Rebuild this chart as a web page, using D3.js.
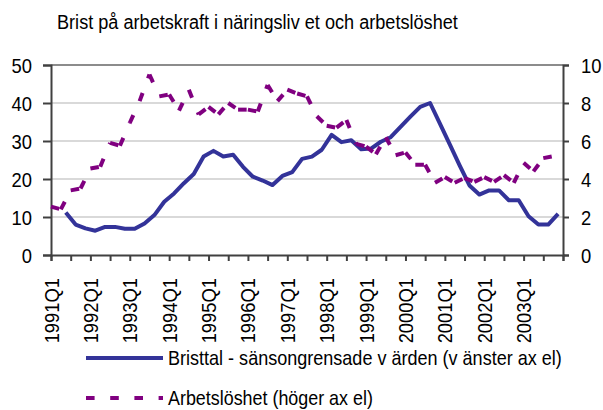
<!DOCTYPE html>
<html><head><meta charset="utf-8">
<script src="https://cdn.jsdelivr.net/npm/d3@7"></script>
<style>
html,body{margin:0;padding:0;background:#fff;}
text{font-family:"Liberation Sans",Arial,sans-serif;fill:#000;}
</style></head>
<body>
<svg id="chart" width="603" height="410"></svg>
<script>
const title = "Brist på arbetskraft i näringsliv et och arbetslöshet";
const quarters = ["1991Q1","1991Q2","1991Q3","1991Q4","1992Q1","1992Q2","1992Q3","1992Q4",
"1993Q1","1993Q2","1993Q3","1993Q4","1994Q1","1994Q2","1994Q3","1994Q4",
"1995Q1","1995Q2","1995Q3","1995Q4","1996Q1","1996Q2","1996Q3","1996Q4",
"1997Q1","1997Q2","1997Q3","1997Q4","1998Q1","1998Q2","1998Q3","1998Q4",
"1999Q1","1999Q2","1999Q3","1999Q4","2000Q1","2000Q2","2000Q3","2000Q4",
"2001Q1","2001Q2","2001Q3","2001Q4","2002Q1","2002Q2","2002Q3","2002Q4",
"2003Q1","2003Q2","2003Q3","2003Q4"];
const xLabels = ["1991Q1","1992Q1","1993Q1","1994Q1","1995Q1","1996Q1","1997Q1","1998Q1","1999Q1","2000Q1","2001Q1","2002Q1","2003Q1"];
// Bristtal (left axis), 1991Q1 missing
const bristtal = [null,11.2,8.0,7.0,6.4,7.4,7.4,6.9,6.9,8.3,10.5,14.0,16.2,18.9,21.3,25.9,
27.4,25.9,26.4,23.2,20.6,19.6,18.4,20.8,21.8,25.3,25.9,27.7,31.6,29.7,30.2,27.8,
28.0,29.8,31.0,33.7,36.4,39.0,40.0,34.6,29.1,23.6,18.3,15.9,17.0,17.0,14.4,14.4,
10.2,8.0,8.0,10.8];
// Arbetslöshet (right axis)
const arbetsloshet = [2.55,2.4,3.4,3.5,4.55,4.65,5.9,5.75,6.95,8.1,9.5,8.35,8.45,7.6,8.7,7.4,
7.8,7.4,8.0,7.65,7.65,7.55,8.95,8.1,8.7,8.5,8.35,7.3,6.8,6.7,7.1,5.85,
5.7,5.3,6.2,5.25,5.4,4.75,4.75,3.8,4.1,3.8,4.05,3.85,4.1,3.85,4.2,3.8,
4.85,4.4,5.1,5.2];
const leftTicks = [0,10,20,30,40,50];
const rightTicks = [0,2,4,6,8,10];
const legendLabels = ["Bristtal - sänsongrensade v ärden (v änster ax el)","Arbetslöshet (höger ax el)"];

const W=603,H=410;
const m={left:51,right:40,top:65,bottom:155};
const svg=d3.select("#chart");
const squeeze=0.875;
// horizontally condense a text via transform (keeps bounding box honest)
function place(sel,x,y,rot,target){
  sel.each(function(d){
    const t=d3.select(this);
    const L=this.getComputedTextLength();
    const tx=typeof x==="function"?x(d):x, ty=typeof y==="function"?y(d):y;
    const tw=typeof target==="function"?target(d):target;
    const s=tw?tw/L:squeeze;
    t.attr("transform",`translate(${tx},${ty})${rot?` rotate(${rot})`:""} scale(${s},1)`);
  });
}

const band=d3.scaleBand().domain(quarters).range([m.left,W-m.right]).padding(0);
const xLin=d3.scaleLinear().domain([0,quarters.length]).range([m.left,W-m.right]);
const yL=d3.scaleLinear().domain([0,50]).range([H-m.bottom,m.top]);
const yR=d3.scaleLinear().domain([0,10]).range([H-m.bottom,m.top]);

// gridlines
svg.append("g").selectAll("line").data(leftTicks.filter(d=>d>0&&d<50)).join("line")
 .attr("x1",m.left).attr("x2",W-m.right).attr("y1",d=>yL(d)).attr("y2",d=>yL(d))
 .attr("stroke","#d9d9d9").attr("stroke-width",2);
svg.append("line").attr("x1",m.left).attr("x2",W-m.right).attr("y1",yL(50)).attr("y2",yL(50))
 .attr("stroke","#8c8c8c").attr("stroke-width",2);

// axes
const axCol="#404040";
const gL=svg.append("g").attr("transform",`translate(${m.left},0)`)
 .call(d3.axisLeft(yL).tickValues(leftTicks).tickSize(8).tickFormat(""));
const gR=svg.append("g").attr("transform",`translate(${W-m.right},0)`)
 .call(d3.axisRight(yR).tickValues(rightTicks).tickSize(6).tickFormat(""));
const gB=svg.append("g").attr("transform",`translate(0,${H-m.bottom})`)
 .call(d3.axisBottom(xLin).tickValues(d3.range(0,quarters.length+1,2)).tickSize(6).tickFormat(""));
[gL,gR,gB].forEach(g=>{g.selectAll("path,line").attr("stroke",axCol).attr("stroke-width",2);});

// tick labels
svg.append("g").selectAll("text").data(leftTicks).join("text")
 .attr("dy","0.36em").attr("text-anchor","end")
 .attr("font-size",21).text(d=>d).call(place,32,d=>yL(d),0,null);
svg.append("g").selectAll("text").data(rightTicks).join("text")
 .attr("dy","0.36em").attr("text-anchor","start")
 .attr("font-size",21).text(d=>d).call(place,581,d=>yR(d),0,null);
svg.append("g").selectAll("text").data(xLabels).join("text")
 .attr("dy","0.36em").attr("text-anchor","end").attr("font-size",21).text(d=>d)
 .call(place,d=>band(d),278,-90,null);

// title
svg.append("text").attr("font-size",21).text(title).call(place,57,29,0,401);

// Bristtal line
const bw=band.bandwidth();
const line=d3.line().defined(d=>d.v!=null).x(d=>d.x).y(d=>d.y);
const bPts=quarters.map((q,i)=>({x:band(q)+bw/2,y:bristtal[i]==null?0:yL(bristtal[i]),v:bristtal[i]}));
svg.append("path").attr("d",line(bPts)).attr("fill","none").attr("stroke","#333399")
 .attr("stroke-width",4).attr("stroke-linejoin","round");

// Arbetslöshet dashed, pattern restarts at each segment
const dash="8.6,15.6";
const aPts=quarters.map((q,i)=>({x:band(q),y:yR(arbetsloshet[i]),v:arbetsloshet[i]}));
svg.append("g").selectAll("path").data(d3.pairs(aPts)).join("path")
 .attr("d",d=>line(d)).attr("fill","none").attr("stroke","#800080")
 .attr("stroke-width",4).attr("stroke-dasharray",dash).attr("stroke-linecap","butt");

// legend
const lg=[{y:358,color:"#333399",dash:null,w:394},{y:398,color:"#800080",dash:dash,w:205}];
lg.forEach((l,i)=>{
 const ln=svg.append("line").attr("x1",86).attr("x2",163).attr("y1",l.y).attr("y2",l.y)
  .attr("stroke",l.color).attr("stroke-width",4);
 if(l.dash) ln.attr("stroke-dasharray",l.dash);
 svg.append("text").attr("dy","0.36em").attr("font-size",20.5)
  .text(legendLabels[i]).call(place,168,l.y,0,l.w);
});
</script>
</body></html>
